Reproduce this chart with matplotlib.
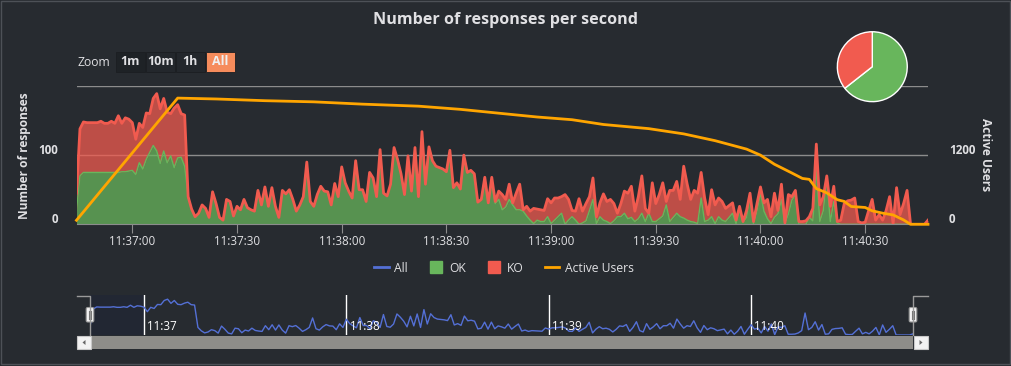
import numpy as np
import matplotlib
matplotlib.use('Agg')
import matplotlib.pyplot as plt
from matplotlib.patches import Rectangle, FancyBboxPatch, Polygon
from matplotlib.lines import Line2D
from matplotlib.transforms import ScaledTranslation

plt.rcParams['font.family'] = ['Open Sans', 'DejaVu Sans']

W, H = 1011, 366
BG = '#272b30'
TXT = '#e0e0e3'
GRID = '#8c8c8c'
C_ALL = '#5470d6'
C_OK = '#68b65c'
C_KO = '#f15b4f'
C_USERS = '#ffa500'

# responses per second, one sample per second starting 11:36:44
all_rps = [
    45, 138, 148, 147, 147, 147, 147, 149, 146, 146, 149, 146, 157, 146, 154, 152,
    147, 123, 146, 140, 161, 160, 182, 189, 167, 182, 162, 160, 168, 173, 160, 158,
    40, 22, 11, 16, 28, 23, 10, 47, 30, 10,
    6, 36, 33, 12, 26, 21, 36, 24, 21, 19,
    49, 28, 54, 26, 53, 26, 10, 49, 44, 50,
    36, 19, 28, 40, 90, 33, 26, 43, 55, 48,
    47, 28, 59, 40, 83, 60, 48, 38, 92, 50,
    50, 33, 75, 67, 40, 108, 45, 41, 58, 111,
    94, 73, 43, 99, 48, 111, 40, 134, 58, 112,
    92, 84, 82, 80, 76, 107, 53, 60, 51, 100,
    75, 78, 73, 32, 36, 68, 31, 68, 33, 48,
    43, 36, 58, 31, 45, 58, 21, 26, 19, 23,
    22, 21, 20, 37, 31, 38, 38, 40, 43, 36,
    20, 19, 37, 19, 30, 40, 67, 11, 31, 44,
    33, 36, 30, 16, 30, 48, 45, 55, 19, 40,
    70, 23, 16, 60,
    30, 43, 60, 33, 49, 49, 62, 36, 84, 58,
    36, 49, 45, 75, 38, 14, 50, 28, 38, 33,
    23, 27, 31, 6, 26, 4, 20, 45, 4, 30,
    54, 31, 36, 11, 45, 20, 58, 2, 43, 40,
    49,
    4, 4, 5, 11, 23, 116, 28, 40, 70, 26,
    55, 4, 6, 30, 34, 35, 38, 4, 2, 3,
    20, 36, 6, 14, 6, 20, 40, 1, 53, 14,
    30, 49, 0, 0, 0, 0, 0, 6,
]
ko_rps = [
    25, 68, 73, 72, 72, 72, 72, 74, 71, 71, 74, 71, 82, 70, 78, 75,
    69, 51, 57, 60, 67, 56, 68, 83, 79, 76, 73, 61, 86, 77, 63, 74,
    0, 0, 0, 0, 0, 0, 0, 0, 0, 0, 0, 0, 0, 0, 0, 0, 0, 0, 0, 0,
    0, 0, 0, 0, 0, 0, 0, 0, 0, 0, 0, 0, 0, 0, 0, 0, 0, 0, 0, 0,
    0, 0, 0, 0, 0, 0, 0, 0, 0, 0, 0, 0, 0, 0, 0, 0, 0, 0, 0, 0,
    0, 0, 0, 0, 0, 0, 0, 0, 0, 0, 0, 0, 0, 0, 0, 0, 0, 0, 0, 0,
    0, 0, 0, 0, 0, 0, 0,
    8, 3, 12, 22, 11, 22, 3, 24, 37, 2,
    14, 13, 22, 16, 17, 16, 26, 30, 32, 27,
    24, 43, 30, 9, 13, 37, 17, 25, 20, 31,
    10, 20, 38, 29, 35, 25, 5, 19, 32, 37,
    45, 15, 32, 54, 19, 0, 56,
    26, 35, 48, 5, 45, 39, 46, 25, 75, 52,
    32, 46, 44, 37, 34, 8, 39, 27, 27, 27,
    19, 17, 15, 5, 3, 1, 10, 3, 3, 10,
    9, 12, 28, 10, 35, 5, 22, 1, 28, 5,
    6,
    4, 4, 5, 1, 18, 34, 24, 20, 3, 22,
    22, 2, 6, 30, 34, 35, 38, 4, 2, 3,
    20, 36, 6, 14, 6, 20, 40, 1, 53, 14,
    30, 49, 0, 0, 0, 0, 0, 6,
]

# active users, read at selected seconds
users_t = [0, 29, 40, 54, 68, 82, 98, 110, 124, 132, 142, 151, 164, 174, 183,
           192, 196, 200, 205, 208, 210, 212, 215, 218, 220, 222, 226, 228, 231,
           234, 237, 239, 244]
users = [70, 2190, 2175, 2145, 2125, 2085, 2050, 1995, 1910, 1862, 1815, 1732,
         1660, 1569, 1451, 1305, 1200, 1042, 890, 796, 780, 620, 545, 427, 397,
         309, 292, 234, 193, 163, 76, 0, 0]

pie_labels = ['OK', 'KO']
pie_shares = [64.4, 35.6]

x_ticks = [16, 46, 76, 106, 136, 166, 196, 226]
x_labels = ['11:37:00', '11:37:30', '11:38:00', '11:38:30',
            '11:39:00', '11:39:30', '11:40:00', '11:40:30']
rps_ticks = [0, 100]
rps_grid = [100, 200]
user_ticks = [0, 1200]
nav_ticks = [16, 76, 136, 196]
nav_labels = ['11:37', '11:38', '11:39', '11:40']
zoom_buttons = ['1m', '10m', '1h', 'All']


def px_rect(x0, y0, x1, y1):
    return [x0 / W, 1 - y1 / H, (x1 - x0) / W, (y1 - y0) / H]


t = np.arange(len(all_rps))
all_arr = np.array(all_rps, dtype=float)
ok_arr = all_arr - np.array(ko_rps, dtype=float)

fig = plt.figure(figsize=(W / 100, H / 100), dpi=100, facecolor=BG)
lift = ScaledTranslation(0, 5 / 100, fig.dpi_scale_trans)  # labels sit 5px above gridline

# main chart
ax = fig.add_axes(px_rect(77.3, 86, 928, 224.3))
ax.set_facecolor('none')
for v in rps_grid:
    ax.axhline(v, color=GRID, lw=1, zorder=0)
ax.fill_between(t, 0, ok_arr, color=C_OK, alpha=0.75, lw=0, zorder=1)
ax.fill_between(t, ok_arr, all_arr, color=C_KO, alpha=0.75, lw=0, zorder=1)
ax.plot(t, ok_arr, color=C_OK, lw=1, zorder=2)
ax.plot(t, all_arr, color=C_KO, lw=2, zorder=3)
ax.set_xlim(0.24, 244)
ax.set_ylim(0, 200)
for s in ['top', 'left', 'right']:
    ax.spines[s].set_visible(False)
ax.spines['bottom'].set_color(GRID)
ax.set_xticks(x_ticks)
ax.set_xticklabels(x_labels)
ax.set_yticks(rps_ticks)
ax.set_yticklabels([str(v) for v in rps_ticks], fontweight='bold', va='center')
ax.tick_params(axis='x', length=6.5, color=GRID, pad=1, labelsize=8.4, labelcolor=TXT)
ax.tick_params(axis='y', length=0, pad=14, labelsize=8.4, labelcolor=TXT)
for lbl in ax.get_yticklabels():
    lbl.set_transform(lbl.get_transform() + lift)

ax2 = ax.twinx()
ax2.set_facecolor('none')
ax2.plot(users_t, users, color=C_USERS, lw=2, clip_on=False, zorder=4)
ax2.set_ylim(0, 2400)
for s in ax2.spines.values():
    s.set_visible(False)
ax2.set_yticks(user_ticks)
ax2.set_yticklabels([str(v) for v in user_ticks], fontweight='bold', va='center')
ax2.tick_params(axis='y', length=0, pad=15, labelsize=8.4, labelcolor=TXT)
for lbl in ax2.get_yticklabels():
    lbl.set_transform(lbl.get_transform() + lift)

fig.text(0.5, 1 - 20 / H, 'Number of responses per second', ha='center', va='center',
         fontsize=11.6, fontweight='bold', color=TXT)
fig.text(25 / W, 1 - 156 / H, 'Number of responses', rotation=90, ha='center',
         va='center', fontsize=8.6, fontweight='bold', color=TXT)
fig.text(986 / W, 1 - 155 / H, 'Active Users', rotation=270, ha='center',
         va='center', fontsize=8.6, fontweight='bold', color=TXT)

# pie of OK / KO share
axp = fig.add_axes(px_rect(836.3, 30.7, 908.3, 102.7))
axp.pie(pie_shares, colors=[C_OK, C_KO], startangle=90, counterclock=False,
        wedgeprops=dict(edgecolor='white', linewidth=1))
axp.set_xlim(-1.03, 1.03)
axp.set_ylim(-1.03, 1.03)
axp.set_aspect('equal')
axp.axis('off')

# legend
handles = [
    Line2D([], [], color=C_ALL, lw=2),
    Line2D([], [], color=C_OK, marker='s', ls='', markersize=8.6),
    Line2D([], [], color=C_KO, marker='s', ls='', markersize=8.6),
    Line2D([], [], color=C_USERS, lw=2),
]
fig.legend(handles, ['All', 'OK', 'KO', 'Active Users'], loc='center',
           bbox_to_anchor=(504 / W, 1 - 268 / H), ncol=4, frameon=False,
           fontsize=8.7, labelcolor=TXT, handlelength=1.2, handletextpad=0.45,
           columnspacing=1.75)

# navigator
axn = fig.add_axes(px_rect(90, 295, 913, 335))
axn.set_facecolor('none')
axn.axis('off')
axn.set_xlim(0, 244)
axn.set_ylim(0, 211)
axn.axvspan(0, nav_ticks[0], color='#222733', lw=0, zorder=0)
axn.plot(t, all_arr, color=C_ALL, lw=1, zorder=2)
for tk, lb in zip(nav_ticks, nav_labels):
    axn.axvline(tk, color='white', lw=1, zorder=1)
    axn.text(tk + 1, 0.2, lb, transform=axn.get_xaxis_transform(), color='white',
             fontsize=8.4, va='center', ha='left', zorder=3)

# decorations in pixel coordinates
axd = fig.add_axes([0, 0, 1, 1])
axd.set_xlim(0, W)
axd.set_ylim(H, 0)
axd.axis('off')
axd.add_patch(Rectangle((1, 1), 1008.5, 363, fill=False, ec='#4d5157', lw=1))

# navigator outline, handles, scrollbar
axd.plot([77, 90, 90], [295.5, 295.5, 335], color='#9a9a9a', lw=1)
axd.plot([913, 913, 928], [335, 295.5, 295.5], color='#9a9a9a', lw=1)
axd.add_patch(Rectangle((90, 335.5), 823, 13.5, fc='#8e8d89', lw=0))
for bx, tri in [(77, [(85.5, 340), (85.5, 345), (82.5, 342.5)]),
                (913.5, [(919.5, 340), (919.5, 345), (922.5, 342.5)])]:
    axd.add_patch(Rectangle((bx, 335.5), 14, 13.5, fc='#f2f2f2', ec='#c8c8c8', lw=0.8))
    axd.add_patch(Polygon(tri, closed=True, fc='#666666', lw=0))
for hx in [90, 913]:
    axd.add_patch(FancyBboxPatch((hx - 3.8, 307.5), 7.6, 14.5,
                                 boxstyle='round,pad=0,rounding_size=1.5',
                                 fc='#f2f2f2', ec='#999999', lw=0.8))
    axd.plot([hx - 1, hx - 1], [311, 318.5], color='#777777', lw=0.8)
    axd.plot([hx + 1, hx + 1], [311, 318.5], color='#777777', lw=0.8)

# range selector buttons
axd.text(77, 62, 'Zoom', color=TXT, fontsize=8.7, ha='left', va='center')
btn_x = [115.7, 145.7, 175.7, 205.7]
btn_fill = ['#1e2226', '#23272c', '#23272c', '#f68c5c']
for lb, bx, fc in zip(zoom_buttons, btn_x, btn_fill):
    axd.add_patch(Rectangle((bx, 52.3), 29.3, 19.4, fc=fc, ec='#1b1e22', lw=0.6))
    axd.text(bx + 14.65, 61.3, lb, color='#f0f0f0' if lb == 'All' else TXT,
             fontsize=9, fontweight='bold', ha='center', va='center')

fig.savefig('out.png', dpi=100, facecolor=BG)
